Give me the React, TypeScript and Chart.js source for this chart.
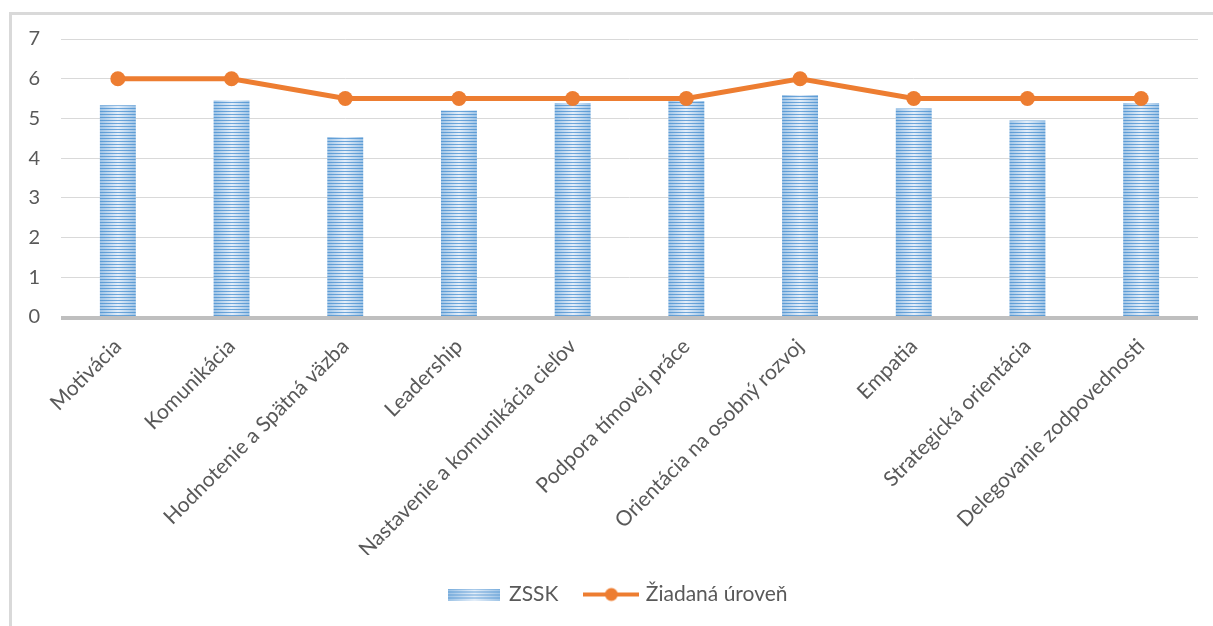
import React, { useEffect, useRef } from 'react';
import { Chart, registerables } from 'chart.js';

Chart.register(...registerables);

const categories = [
  'Motivácia',
  'Komunikácia',
  'Hodnotenie a Spätná väzba',
  'Leadership',
  'Nastavenie a komunikácia cieľov',
  'Podpora tímovej práce',
  'Orientácia na osobný rozvoj',
  'Empatia',
  'Strategická orientácia',
  'Delegovanie zodpovednosti',
];
const zsskValues = [5.33, 5.45, 4.53, 5.2, 5.39, 5.44, 5.59, 5.25, 4.95, 5.39];
const targetValues = [6, 6, 5.5, 5.5, 5.5, 5.5, 6, 5.5, 5.5, 5.5];
const seriesNames = ['ZSSK', 'Žiadaná úroveň'];
const yMin = 0;
const yMax = 7;
const yStep = 1;

const FONT = 'Lato, "Open Sans", sans-serif';
const TEXT = '#595959';
const BLUE = '#5B9BD5';
const ORANGE = '#ED7D31';
const BAR_W = 36;

function stripeCanvas(w: number, h: number): HTMLCanvasElement {
  const c = document.createElement('canvas');
  c.width = w;
  c.height = h;
  const g = c.getContext('2d')!;
  for (let y = 0; y < h; y++) {
    const r = y % 3;
    const grad = g.createLinearGradient(0, 0, w, 0);
    if (r === 0) {
      grad.addColorStop(0, '#5B9BD5');
      grad.addColorStop(0.5, '#6EA6DA');
      grad.addColorStop(1, '#5B9BD5');
    } else {
      grad.addColorStop(0, '#9DC3E6');
      grad.addColorStop(0.5, '#E4EEF9');
      grad.addColorStop(1, '#9DC3E6');
    }
    g.fillStyle = grad;
    g.fillRect(0, y, w, 1);
  }
  return c;
}

function lineLegendCanvas(): HTMLCanvasElement {
  const c = document.createElement('canvas');
  c.width = 56;
  c.height = 16;
  const g = c.getContext('2d')!;
  g.strokeStyle = ORANGE;
  g.lineWidth = 4;
  g.beginPath();
  g.moveTo(0, 8);
  g.lineTo(56, 8);
  g.stroke();
  g.fillStyle = ORANGE;
  g.beginPath();
  g.arc(28, 8, 6.5, 0, Math.PI * 2);
  g.fill();
  return c;
}

export default function App() {
  const ref = useRef<HTMLCanvasElement | null>(null);

  useEffect(() => {
    document.body.style.margin = '0';
    const canvas = ref.current!;
    const ctx = canvas.getContext('2d')!;
    const barTile = stripeCanvas(BAR_W, 3);
    const barLegend = stripeCanvas(52, 12);
    const lineLegend = lineLegendCanvas();

    const zeroLine = {
      id: 'zeroLine',
      afterDatasetsDraw(chart: any) {
        const { ctx: c, chartArea, scales } = chart;
        const y = scales.y.getPixelForValue(0);
        c.save();
        c.strokeStyle = '#BFBFBF';
        c.lineWidth = 4;
        c.beginPath();
        c.moveTo(chartArea.left, y + 1);
        c.lineTo(chartArea.right, y + 1);
        c.stroke();
        c.restore();
      },
    };

    const legendShift = {
      id: 'legendShift',
      afterLayout(chart: any) {
        if (chart.legend) {
          chart.legend.left += 20;
          chart.legend.right += 20;
        }
      },
    };

    const chart = new Chart(ctx, {
      type: 'bar',
      data: {
        labels: categories,
        datasets: [
          {
            type: 'line',
            label: seriesNames[1],
            data: targetValues,
            borderColor: ORANGE,
            backgroundColor: ORANGE,
            borderWidth: 5,
            pointRadius: 7.5,
            pointBackgroundColor: ORANGE,
            pointBorderColor: ORANGE,
            pointBorderWidth: 0,
            tension: 0,
            order: 0,
          },
          {
            type: 'bar',
            label: seriesNames[0],
            data: zsskValues,
            backgroundColor: (context: any) => {
              const ch = context.chart;
              const xs = ch.scales && ch.scales.x;
              const pat = ch.ctx.createPattern(barTile, 'repeat');
              if (xs && context.type === 'data' && pat) {
                const cx = xs.getPixelForValue(context.dataIndex);
                pat.setTransform(new DOMMatrix().translate(Math.round(cx - BAR_W / 2), 0));
              }
              return pat || BLUE;
            },
            borderWidth: 0,
            categoryPercentage: 1,
            barPercentage: 0.316,
            order: 1,
          },
        ],
      },
      options: {
        animation: false,
        responsive: false,
        maintainAspectRatio: false,
        layout: { padding: { top: 39, left: 0, right: 15, bottom: 11 } },
        plugins: {
          tooltip: { enabled: false },
          legend: {
            display: true,
            position: 'bottom',
            labels: {
              usePointStyle: true,
              pointStyleWidth: 48,
              boxHeight: 12,
              padding: 29,
              color: TEXT,
              font: { family: FONT, size: 21 },
              generateLabels: () => [
                {
                  text: seriesNames[0],
                  pointStyle: barLegend,
                  fillStyle: 'transparent',
                  strokeStyle: 'transparent',
                  lineWidth: 0,
                  hidden: false,
                  datasetIndex: 1,
                  fontColor: TEXT,
                } as any,
                {
                  text: seriesNames[1],
                  pointStyle: lineLegend,
                  fillStyle: 'transparent',
                  strokeStyle: 'transparent',
                  lineWidth: 0,
                  hidden: false,
                  datasetIndex: 0,
                  fontColor: TEXT,
                } as any,
              ],
            },
          },
        },
        scales: {
          x: {
            grid: { display: false, drawTicks: false },
            border: { display: false },
            ticks: {
              minRotation: 45,
              maxRotation: 45,
              autoSkip: false,
              padding: 17,
              color: TEXT,
              font: { family: FONT, size: 21 },
            },
            afterFit: (s: any) => {
              s.height = 238;
            },
          },
          y: {
            min: yMin,
            max: yMax,
            grid: {
              drawTicks: false,
              color: (c: any) => (c.tick && c.tick.value === 0 ? 'transparent' : '#D9D9D9'),
              lineWidth: 1,
            },
            border: { display: false },
            ticks: {
              stepSize: yStep,
              padding: 21,
              color: TEXT,
              font: { family: FONT, size: 20 },
            },
            afterFit: (s: any) => {
              s.width = 61;
            },
          },
        },
      },
      plugins: [zeroLine, legendShift],
    } as any);

    return () => chart.destroy();
  }, []);

  return (
    <div style={{ position: 'relative', width: 1213, height: 626, background: '#fff' }}>
      <div
        style={{
          position: 'absolute',
          left: 9,
          top: 12,
          right: 0,
          bottom: 0,
          borderLeft: '3px solid #D9D9D9',
          borderTop: '3px solid #D9D9D9',
        }}
      />
      <canvas ref={ref} width={1213} height={626} style={{ position: 'absolute', left: 0, top: 0 }} />
    </div>
  );
}
